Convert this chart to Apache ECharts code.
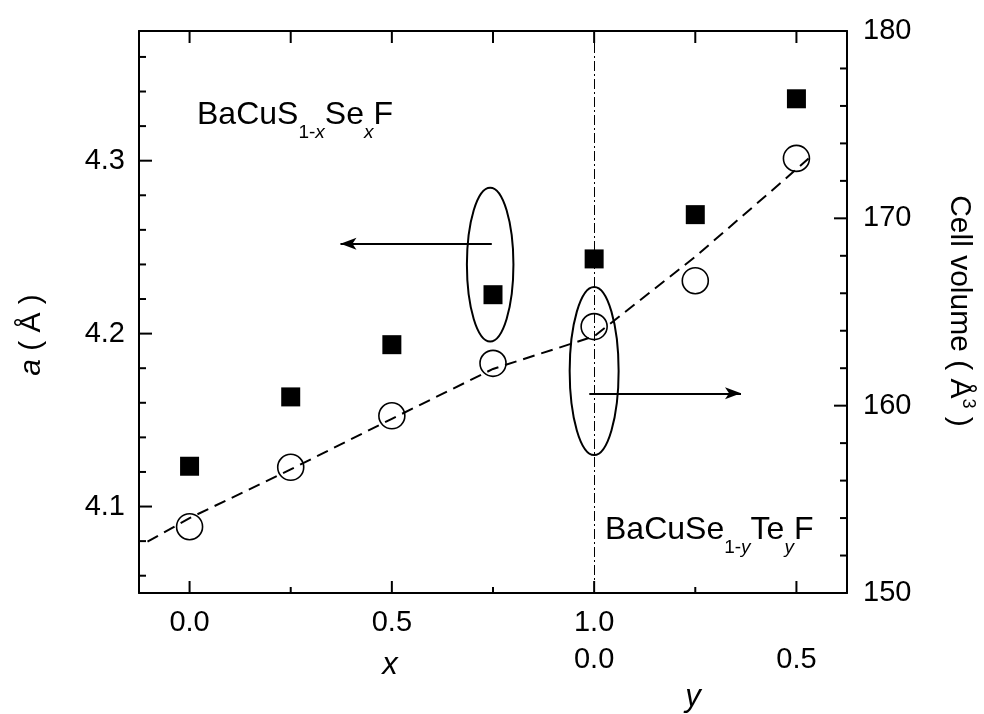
<!DOCTYPE html>
<html><head><meta charset="utf-8">
<script src="https://cdn.jsdelivr.net/npm/echarts@6/dist/echarts.min.js"></script>
<style>html,body{margin:0;padding:0;background:#fff}#c{width:984px;height:714px}</style>
</head><body><div id="c"></div>
<script>
// ---- data ----
const compositionX = [0, 0.25, 0.5, 0.75, 1.0, 1.25, 1.5];
const latticeA     = [4.1233, 4.1634, 4.1936, 4.2225, 4.2432, 4.2688, 4.3358];
const cellVolume   = [153.54, 156.71, 159.46, 162.26, 164.22, 166.67, 173.2];
const fitX         = [-0.104, 0, 0.25, 0.5, 0.75, 1.0, 1.25, 1.46, 1.53];
const fitVolume    = [152.74, 154.0, 156.6, 159.3, 161.96, 163.7, 167.95, 171.87, 173.2];
// tick labels / tick positions
const xLabelValues = [0, 0.5, 1.0, 1.5];
const xLabelsX     = ['0.0', '0.5', '1.0', ''];
const xLabelsY     = ['', '', '0.0', '0.5'];
const xMinorTicks  = [0.25, 0.75, 1.25];
const xTopTicks    = [0, 0.25, 0.5, 0.75, 1.0, 1.25, 1.5];
const aMajorTicks  = [4.1, 4.2, 4.3];
const aMinorTicks  = [4.06, 4.08, 4.12, 4.14, 4.16, 4.18, 4.22, 4.24, 4.26, 4.28, 4.32, 4.34, 4.36];
const vMajorTicks  = [150, 160, 170, 180];
const vMinorTicks  = [152, 154, 156, 158, 162, 164, 166, 168, 172, 174, 176, 178];
// annotation anchors (data coordinates)
const ellipseA = [[0.743, 4.2399, 0.0575, 0.0445]];
const ellipseV = [[1.0, 161.85, 0.0605, 4.484]];
const arrowA   = [[0.747, 4.252], [0.373, 4.252]];
const arrowV   = [[0.988, 160.66], [1.363, 160.66]];
const divider  = 1.0;

const X_MIN = -0.125, X_MAX = 1.625, A_MIN = 4.05, A_MAX = 4.375, V_MIN = 150, V_MAX = 180;
const FONT = '"Liberation Sans", Arial, sans-serif';
const chart = echarts.init(document.getElementById('c'));

// tick kinds: [side, length]
const TICK_KINDS = [['bottom', 12], ['bottom', 6], ['top', 12], ['left', 13], ['left', 7], ['right', 13], ['right', 7]];
const ticksA = [].concat(xLabelValues.map(v => [v, 0]), xMinorTicks.map(v => [v, 1]),
  aMajorTicks.map(v => [v, 3]), aMinorTicks.map(v => [v, 4]));
const ticksV = [].concat(xTopTicks.map(v => [v, 2]), vMajorTicks.map(v => [v, 5]), vMinorTicks.map(v => [v, 6]));

// inward tick marks, positioned through the axes' own scales, drawn as filled bars
function makeTickRender(yRef) {
  return function (params, api) {
    const cs = params.coordSys;
    const v = api.value(0);
    const kind = TICK_KINDS[api.value(1)];
    const side = kind[0], len = kind[1];
    let shape;
    if (side === 'bottom' || side === 'top') {
      const px = api.coord([v, yRef])[0];
      shape = side === 'bottom'
        ? {x: px - 1, y: cs.y + cs.height - len, width: 2, height: len}
        : {x: px - 1, y: cs.y, width: 2, height: len};
    } else {
      const py = api.coord([X_MIN, v])[1];
      shape = side === 'left'
        ? {x: cs.x, y: py - 1, width: len, height: 2}
        : {x: cs.x + cs.width - len, y: py - 1, width: len, height: 2};
    }
    return {type: 'rect', shape, style: {fill: '#000'}};
  };
}
// dashed fit curve drawn as one polyline through the fit points
function fitRender(params, api) {
  if (params.dataIndexInside !== 0) return null;
  const pts = [];
  for (let i = 0; i < params.dataInsideLength; i++) pts.push(api.coord([api.value(0, i), api.value(1, i)]));
  return {type: 'polyline', shape: {points: pts},
          style: {fill: 'none', stroke: '#000', lineWidth: 2, lineDash: [12, 7]}};
}
function ellipseRender(params, api) {
  const c = api.coord([api.value(0), api.value(1)]);
  const s = api.size([api.value(2), api.value(3)]);
  return {type: 'ellipse', shape: {cx: c[0], cy: c[1], rx: s[0], ry: s[1]},
          style: {fill: 'none', stroke: '#000', lineWidth: 2}};
}
function axis(gridIndex, position, min, max, label) {
  const a = {
    type: 'value', gridIndex, splitLine: {show: false}, position, min, max,
    axisLine: {show: true, onZero: false, lineStyle: {color: '#000', width: 2}},
    axisTick: {show: false},
    axisLabel: {show: !!label, color: '#000', fontSize: 29, fontFamily: FONT}
  };
  if (label) Object.assign(a.axisLabel, label);
  return a;
}
const gridBox = {left: 139, top: 31, right: 137, bottom: 121, containLabel: false};

const option = {
  animation: false,
  backgroundColor: '#fff',
  grid: [Object.assign({}, gridBox), Object.assign({}, gridBox)],
  xAxis: [
    axis(0, 'bottom', X_MIN, X_MAX, {customValues: xLabelValues, margin: 11, lineHeight: 37,
      formatter: v => { const i = xLabelValues.findIndex(t => Math.abs(t - v) < 1e-9); return i < 0 ? '' : xLabelsX[i] + '\n' + xLabelsY[i]; }}),
    axis(1, 'top', X_MIN, X_MAX)
  ],
  yAxis: [
    axis(0, 'left', A_MIN, A_MAX, {customValues: aMajorTicks, margin: 14, formatter: v => v.toFixed(1)}),
    axis(1, 'right', V_MIN, V_MAX, {customValues: vMajorTicks, margin: 16})
  ],
  series: [
    {type: 'custom', xAxisIndex: 0, yAxisIndex: 0, data: ticksA, renderItem: makeTickRender(A_MIN), silent: true, clip: false, z: 5},
    {type: 'custom', xAxisIndex: 1, yAxisIndex: 1, data: ticksV, renderItem: makeTickRender(V_MIN), silent: true, clip: false, z: 5},
    {type: 'custom', name: 'fit', xAxisIndex: 1, yAxisIndex: 1, silent: true, z: 2,
      data: fitX.map((x, i) => [x, fitVolume[i]]), renderItem: fitRender},
    {
      type: 'scatter', name: 'a', xAxisIndex: 0, yAxisIndex: 0,
      data: compositionX.map((x, i) => [x, latticeA[i]]),
      symbol: 'rect', symbolSize: 19, itemStyle: {color: '#000', opacity: 1},
      markLine: {
        silent: true, symbol: ['none', 'arrow'], symbolSize: [9, 16], label: {show: false},
        lineStyle: {color: '#000', width: 2, type: 'solid'},
        data: [[{coord: arrowA[0]}, {coord: arrowA[1]}]]
      },
      z: 3
    },
    {
      type: 'scatter', name: 'V', xAxisIndex: 1, yAxisIndex: 1,
      data: compositionX.map((x, i) => [x, cellVolume[i]]),
      symbol: 'circle', symbolSize: 26,
      itemStyle: {color: 'rgba(0,0,0,0)', borderColor: '#000', borderWidth: 1.6, opacity: 1},
      markLine: {
        silent: true, symbol: ['none', 'arrow'], symbolSize: [9, 16], label: {show: false},
        lineStyle: {color: '#000', width: 2, type: 'solid'},
        data: [[{coord: arrowV[0]}, {coord: arrowV[1]}]]
      },
      z: 3
    },
    {
      type: 'scatter', name: 'divider', xAxisIndex: 1, yAxisIndex: 1, data: [], silent: true,
      markLine: {
        silent: true, symbol: ['none', 'none'], label: {show: false},
        lineStyle: {color: '#000', width: 1, type: [10, 3, 2, 3]},
        data: [{xAxis: divider}]
      },
      z: 2
    },
    {type: 'custom', xAxisIndex: 0, yAxisIndex: 0, data: ellipseA, renderItem: ellipseRender, silent: true, z: 4},
    {type: 'custom', xAxisIndex: 1, yAxisIndex: 1, data: ellipseV, renderItem: ellipseRender, silent: true, z: 4}
  ],
  graphic: [
    {type: 'text', x: 197, y: 88, z: 10, style: {
      text: 'BaCuS{s|1-}{si|x}Se{si|x}F', fontSize: 32, fontFamily: FONT, fill: '#000', lineHeight: 54,
      align: 'left', verticalAlign: 'top',
      rich: {s: {fontSize: 19, lineHeight: 19, fontFamily: FONT, verticalAlign: 'bottom'},
             si: {fontSize: 19, lineHeight: 19, fontFamily: FONT, fontStyle: 'italic', verticalAlign: 'bottom'}}}},
    {type: 'text', x: 605, y: 503, z: 10, style: {
      text: 'BaCuSe{s|1-}{si|y}Te{si|y}F', fontSize: 32, fontFamily: FONT, fill: '#000', lineHeight: 54,
      align: 'left', verticalAlign: 'top',
      rich: {s: {fontSize: 19, lineHeight: 19, fontFamily: FONT, verticalAlign: 'bottom'},
             si: {fontSize: 19, lineHeight: 19, fontFamily: FONT, fontStyle: 'italic', verticalAlign: 'bottom'}}}},
    {type: 'text', x: 32, y: 335, rotation: Math.PI / 2, z: 10, style: {
      text: '{i|a} ( Å )', fontSize: 30, fontFamily: FONT, fill: '#000', align: 'center', verticalAlign: 'middle',
      rich: {i: {fontSize: 30, fontFamily: FONT, fontStyle: 'italic'}}}},
    {type: 'text', x: 959, y: 311, rotation: -Math.PI / 2, z: 10, style: {
      text: 'Cell volume ( Å{sup|3} )', fontSize: 30, fontFamily: FONT, fill: '#000', align: 'center', verticalAlign: 'middle',
      lineHeight: 36,
      rich: {sup: {fontSize: 18, lineHeight: 18, fontFamily: FONT, verticalAlign: 'top'}}}},
    {type: 'text', x: 390, y: 665, z: 10, style: {
      text: 'x', fontSize: 31, fontFamily: FONT, fontStyle: 'italic', fill: '#000', align: 'center', verticalAlign: 'middle'}},
    {type: 'text', x: 693, y: 697, z: 10, style: {
      text: 'y', fontSize: 31, fontFamily: FONT, fontStyle: 'italic', fill: '#000', align: 'center', verticalAlign: 'middle'}}
  ]
};
chart.setOption(option);
</script>
</body></html>
